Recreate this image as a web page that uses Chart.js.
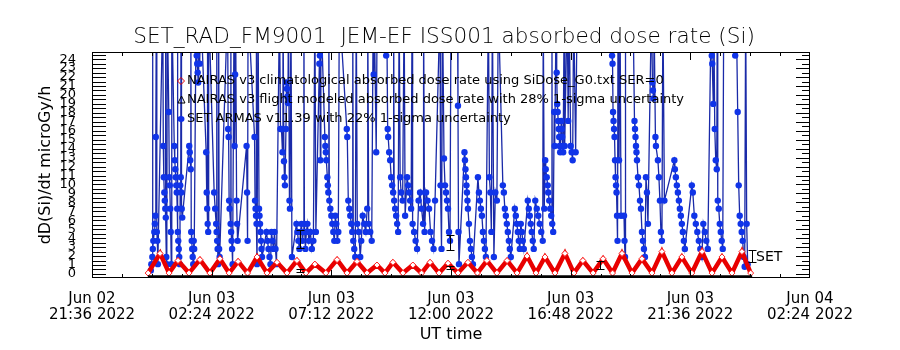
<!DOCTYPE html>
<html>
<head>
<meta charset="utf-8">
<script src="https://cdn.jsdelivr.net/npm/chart.js@4.4.0/dist/chart.umd.min.js"></script>
<style>
  html, body { margin: 0; padding: 0; background: #fff; }
  #wrap { width: 900px; height: 350px; }
</style>
</head>
<body>
<div id="wrap"><canvas id="doseChart" width="900" height="350"></canvas></div>
<script>
// x values are hours after Jun 02 21:36 UT
const xTickHours = [0, 4.8, 9.6, 14.4, 19.2, 24.0, 28.8];
const xTickDates = ['Jun 02', 'Jun 03', 'Jun 03', 'Jun 03', 'Jun 03', 'Jun 03', 'Jun 04'];
const xTickTimes = ['21:36 2022', '02:24 2022', '07:12 2022', '12:00 2022', '16:48 2022', '21:36 2022', '02:24 2022'];
const yTickValues = [0, 1, 2, 3, 4, 5, 6, 7, 8, 9, 10, 11, 12, 13, 14, 15, 16, 17, 18, 19, 20, 21, 22, 23, 24];

const chartTitle = 'SET_RAD_FM9001  JEM-EF ISS001 absorbed dose rate (Si)';
const legendLines = [
    'NAIRAS v3 climatological absorbed dose rate using SiDose_G0.txt SER=0',
    'NAIRAS v3 flight modeled absorbed dose rate with 28% 1-sigma uncertainty',
    'SET ARMAS v11.39 with 22% 1-sigma uncertainty'
];

// NAIRAS climatological (red), troughs and peaks
const redT = [2.25, 2.73, 3.09, 3.45, 3.89, 4.33, 4.73, 5.13, 5.50, 5.86, 6.24, 6.62, 7.02, 7.42, 7.82, 8.22,
    8.58, 8.94, 9.38, 9.83, 10.23, 10.63, 11.03, 11.43, 11.75, 12.07, 12.47, 12.87, 13.22, 13.56, 13.92, 14.28,
    14.68, 15.08, 15.46, 15.84, 16.24, 16.65, 17.05, 17.45, 17.81, 18.17, 18.57, 18.97, 19.33, 19.69, 20.10, 20.50,
    20.88, 21.26, 21.66, 22.06, 22.46, 22.86, 23.26, 23.66, 24.06, 24.47, 24.87, 25.27, 25.67, 26.07, 26.42];
const redV = [0.1, 2.3, 0.1, 1.5, 0.1, 1.6, 0.1, 1.7, 0.1, 1.4, 0.1, 1.9, 0.1, 1.3, 0.1, 1.5,
    0.1, 1.1, 0.1, 1.6, 0.1, 1.4, 0.1, 1.0, 0.1, 1.3, 0.1, 1.0, 0.1, 1.3, 0.1, 1.2,
    0.1, 1.3, 0.1, 1.5, 0.1, 1.5, 0.1, 2.0, 0.1, 1.9, 0.1, 2.3, 0.1, 1.5, 0.1, 1.7,
    0.1, 2.3, 0.1, 1.7, 0.1, 2.5, 0.1, 1.9, 0.1, 2.5, 0.1, 1.9, 0.1, 2.5, 0.1];

// NAIRAS flight modeled (black), sits on the floor
const blackT = [2.24, 8.34, 14.36, 20.37, 26.48];
const blackV = [-0.3, -0.3, -0.3, -0.3, -0.3];
const errT = [8.34, 8.34, 14.36, 14.36, 20.37, 26.47];
const errLo = [2.9, 0.2, 2.7, 0.5, 0.5, 1.3];
const errHi = [4.9, 0.5, 4.4, 0.9, 1.45, 2.7];

// SET ARMAS (blue), [hours, microGy/h]; 30 = off scale
const blueA = [
    [2.36,0.4],[2.38,1.1],[2.42,1.9],[2.43,30],[2.44,2.8],[2.46,3.7],[2.50,4.7],[2.52,5.6],[2.54,6.5],[2.56,15.3],[2.58,30],[2.60,4.7],[2.62,3.7],[2.64,1.1],
    [2.84,30],[2.86,14.3],[2.88,10.8],[2.90,9.1],[2.92,8.2],[2.94,7.3],[2.95,30],[2.96,6.3],[2.98,1.9],[3.00,1.1],[3.02,30],
    [3.08,18.1],[3.10,10.8],[3.12,9.9],[3.14,7.3],[3.16,4.7],[3.18,1.1],[3.20,30],
    [3.30,14.3],[3.32,12.7],[3.34,11.7],[3.36,10.8],[3.38,9.9],[3.40,9.1],[3.42,7.3],[3.43,30],[3.44,4.7],[3.46,3.7],[3.48,2.8],[3.50,1.9],[3.52,1.1],[3.54,9.9],[3.56,10.8],[3.57,30],[3.58,9.1],[3.60,7.3],[3.62,6.3],
    [3.90,14.3],[3.92,13.6],[3.94,12.7],[3.96,11.7],[3.97,30],[3.98,4.7],[4.00,3.7],[4.02,2.8],[4.04,1.9],[4.06,1.1],[4.08,3.7],[4.10,2.8],
    [4.18,30],[4.20,24.4],[4.22,23.5],[4.24,22.5],[4.26,21.4],[4.28,30],[4.32,23.5],[4.36,30],
    [4.58,13.6],[4.60,9.1],[4.62,7.3],[4.63,30],[4.64,5.6],[4.66,4.7],[4.68,30],
    [4.90,9.1],[4.94,7.3],[4.98,5.6],[5.00,4.7],[5.01,30],[5.02,3.7],[5.04,2.8],[5.06,1.1],[5.08,30],[5.10,2.8],[5.12,1.9],
    [5.44,30],[5.46,16.2],[5.48,15.3],[5.50,8.2],[5.52,7.3],[5.56,5.6],[5.57,30],[5.58,4.7],[5.60,3.7],[5.62,2.8],[5.64,1.1],[5.70,30],[5.72,14.3],[5.74,22.3],[5.76,30],[5.80,8.2],[5.82,5.6],[5.84,3.7],
    [6.20,14.3],[6.22,9.1],[6.24,3.7],[6.26,30],
    [6.52,15.3],[6.54,8.2],[6.56,7.3],[6.58,6.5],[6.59,30],[6.60,5.6],[6.62,1.1],[6.66,30],[6.70,7.3],[6.72,6.5],[6.74,5.6],[6.76,4.7],[6.78,3.7],[6.80,2.8],[6.82,1.9],
    [7.00,4.7],[7.04,3.7],[7.08,2.8],[7.12,1.9],[7.16,1.1],[7.20,4.7],[7.24,3.7],[7.28,2.8],[7.32,4.7],[7.36,2.8],[7.40,1.1],
    [7.52,30],[7.56,16.2],[7.60,16.2],[7.64,13.6],[7.66,30],[7.70,12.6],[7.72,10.8],[7.74,9.9],[7.78,16.2],[7.80,21.4],[7.82,20.7],[7.84,19.8],[7.86,19.1],[7.88,30],[7.92,8.2],[7.94,7.3],[7.98,30],[8.02,1.9]
];
const blueB = [
    [8.20,5.6],[8.24,4.7],[8.28,3.7],[8.32,2.8],[8.36,4.7],[8.40,5.6],[8.44,3.7],[8.48,4.7],[8.50,30],[8.52,5.6],[8.56,2.8],[8.60,4.7],[8.64,5.6],[8.70,3.7],[8.76,4.7],[8.82,2.8],[8.88,3.7],[8.94,30],[8.98,4.7],
    [9.12,23.5],[9.14,24.4],[9.16,12.7],[9.18,30],
    [9.34,15.3],[9.36,14.3],[9.38,13.6],[9.40,12.7],[9.44,10.8],[9.46,9.9],[9.48,9.1],[9.50,30],[9.52,8.2],[9.56,7.3],[9.60,6.5],[9.64,5.6],[9.68,4.7],[9.72,3.7],[9.76,6.5],[9.80,5.6],[9.84,3.7],[9.88,4.7],[9.92,30],
    [10.22,16.2],[10.24,15.3],[10.28,8.2],[10.32,7.3],[10.36,6.5],[10.40,5.6],[10.44,4.7],[10.46,30],[10.48,3.7],[10.52,2.8],[10.56,1.9],[10.60,30],[10.64,5.6],[10.70,4.7],[10.76,1.9],[10.80,3.7],[10.86,6.5],[10.92,5.6],[10.98,4.7],[11.04,7.3],[11.06,30],[11.10,5.6],[11.16,4.7],[11.22,3.7],
    [11.28,30],[11.30,22.3],[11.32,30],[11.40,13.6],[11.44,30],
    [11.80,24.4],[11.82,30],[11.86,16.2],[11.88,15.3],[11.92,13.6],[11.96,12.7],[12.00,10.8],[12.04,9.9],[12.08,9.1],[12.10,30],[12.12,8.2],[12.16,7.3],[12.20,6.5],[12.24,5.6],[12.28,4.7],[12.32,30],[12.36,10.8],[12.40,9.1],[12.46,8.2],[12.52,30],[12.56,6.5],
    [12.64,10.8],[12.68,9.9],[12.72,9.1],[12.76,8.2],[12.80,7.3],[12.84,30],[12.86,5.6],[12.92,4.7],[12.98,3.7],[13.04,2.8],[13.10,8.2],[13.16,9.1],[13.22,7.3],[13.28,5.6],[13.30,30],[13.34,4.7],[13.40,9.1],[13.46,8.2],[13.52,7.3],[13.58,4.7],[13.64,3.7],[13.70,2.8],[13.76,8.2],
    [13.96,30],[13.98,9.9],[14.02,2.8],[14.06,30],[14.12,12.9],[14.16,9.9],[14.20,9.1],[14.24,8.2],[14.28,7.3],[14.32,4.7],[14.36,3.7],[14.40,30]
];
const blueC = [
    [14.66,30],[14.68,18.8],[14.70,4.7],[14.72,1.1],
    [14.94,13.6],[14.96,12.7],[14.98,11.7],[15.00,10.8],[15.02,9.9],[15.04,9.1],[15.06,8.2],[15.08,7.3],[15.12,5.6],[15.16,3.7],[15.20,2.8],[15.24,1.9],[15.28,1.1],
    [15.48,10.8],[15.52,9.1],[15.56,8.2],[15.60,7.3],[15.64,6.5],[15.68,4.7],[15.72,3.7],[15.76,2.8],[15.80,1.9],
    [15.90,30],[15.94,10.8],[15.98,9.1],[16.02,4.7],[16.06,30],[16.12,1.9],[16.18,9.1],[16.24,8.2],[16.30,30],
    [16.48,9.9],[16.52,9.1],[16.56,7.3],[16.60,6.5],[16.64,5.6],[16.68,4.7],[16.72,3.7],[16.76,2.8],[16.80,1.9],
    [16.96,7.3],[17.00,6.5],[17.04,5.6],[17.08,4.7],[17.12,3.7],[17.16,2.8],[17.20,5.6],[17.24,4.7],[17.28,3.7],[17.32,2.8],
    [17.48,8.2],[17.52,7.3],[17.56,6.5],[17.60,5.6],[17.64,4.7],[17.68,3.7],[17.72,2.8],[17.78,8.2],[17.84,7.3],[17.90,6.5],[17.96,5.6],[18.02,4.7],[18.08,3.7],[18.10,30],[18.14,7.3],
    [18.18,12.7],[18.20,11.7],[18.24,10.8],[18.28,9.9],[18.30,9.1],[18.34,8.2],[18.38,7.3],[18.42,6.5],[18.45,30],[18.46,5.6],[18.50,4.7],[18.54,18.1],[18.56,14.3],
    [18.62,30],[18.64,22.5],[18.66,19.0],[18.68,18.1],[18.70,17.1],[18.72,16.2],[18.74,15.3],[18.76,14.3],[18.78,13.6],[18.82,17.1],[18.84,16.2],[18.86,15.3],[18.88,14.3],[18.90,13.6],[18.94,30],[18.96,14.3],
    [19.06,30],[19.10,17.1],[19.14,30],[19.20,14.3],[19.24,13.6],[19.28,12.7],[19.32,30],[19.40,13.6],[19.46,30],
    [20.84,30],[20.86,24.4],[20.88,23.5],[20.90,18.1],[20.92,17.1],[20.94,16.2],[20.96,15.3],[20.98,12.7],[21.00,10.8],[21.02,9.9],[21.04,9.1],[21.06,6.5],[21.08,3.7],[21.10,30],[21.14,12.7],[21.18,30],[21.22,6.5]
];
const blueD = [
    [21.34,6.5],[21.36,3.7],[21.38,1.9],[21.40,30],
    [21.70,30],[21.76,17.1],[21.78,16.2],[21.80,15.3],[21.82,14.3],[21.84,13.6],[21.86,12.7],[21.90,10.8],[21.94,9.9],[21.98,8.2],[22.02,7.3],[22.06,4.7],[22.10,3.7],[22.14,2.8],[22.18,1.9],[22.22,10.8],[22.26,9.1],[22.30,5.6],
    [22.44,30],[22.48,21.4],[22.50,20.5],[22.52,19.6],[22.54,30],[22.60,15.3],[22.62,14.3],
    [22.70,12.7],[22.74,10.8],[22.78,8.2],[22.82,4.7],[22.86,3.7],[22.90,30],[22.96,8.2],
    [23.36,12.7],[23.38,11.7],[23.42,10.8],[23.46,9.9],[23.50,9.1],[23.54,8.2],[23.58,7.3],[23.62,6.5],[23.66,5.6],[23.70,4.7],[23.74,3.7],[23.78,2.8],
    [24.06,9.9],[24.10,9.1],[24.16,6.5],[24.22,5.6],[24.28,4.7],[24.34,3.7],[24.40,2.8],[24.46,1.9],[24.52,5.6],[24.58,4.7],[24.64,3.7],[24.70,2.8],
    [24.84,30],[24.86,24.4],[24.88,23.5],[24.92,19.0],[24.94,30],[24.98,16.2],[25.02,12.7],[25.06,11.7],[25.08,30],[25.10,8.2],[25.14,7.3],[25.18,5.6],[25.22,4.7],[25.26,3.7],[25.30,2.8],[25.34,30],
    [25.78,30],[25.80,24.4],[25.84,30],[25.90,18.1],[25.94,9.9],[25.98,6.5],[26.02,5.6],[26.06,4.7],[26.10,3.7],[26.14,1.9],[26.18,0.8],[26.22,30],[26.26,5.6],[26.30,1.1]
];

const FONT = "'DejaVu Sans', 'Liberation Sans', sans-serif";

function toPoints(ts, vs) {
    return ts.map((t, i) => ({ x: t, y: vs[i] }));
}

// IDL style box, inside ticks, title, legend and error bars
const idlPlot = {
    id: 'idlPlot',
    afterDatasetsDraw(chart) {
        const { ctx, scales: { x, y } } = chart;
        ctx.save();
        ctx.strokeStyle = '#000';
        ctx.lineWidth = 1;
        for (let i = 0; i < errT.length; i++) {
            const px = Math.round(x.getPixelForValue(errT[i])) + 0.5;
            const y1 = Math.round(y.getPixelForValue(errLo[i])) + 0.5;
            const y2 = Math.round(y.getPixelForValue(errHi[i])) + 0.5;
            ctx.beginPath();
            ctx.moveTo(px, y1); ctx.lineTo(px, y2);
            ctx.moveTo(px - 4, y1); ctx.lineTo(px + 4, y1);
            ctx.moveTo(px - 4, y2); ctx.lineTo(px + 4, y2);
            ctx.stroke();
        }
        ctx.restore();
    },
    afterDraw(chart) {
        const { ctx, chartArea: a, scales: { x, y } } = chart;
        ctx.save();
        ctx.strokeStyle = '#000';
        ctx.lineWidth = 1;
        ctx.strokeRect(a.left + 0.5, a.top + 0.5, a.right - a.left - 1, a.bottom - a.top - 1);

        // y ticks every half unit
        ctx.beginPath();
        for (let k = 0; k <= 49; k++) {
            const py = Math.round(y.getPixelForValue(k / 2)) + 0.5;
            if (py <= a.top + 1) continue;
            ctx.moveTo(a.left, py); ctx.lineTo(a.left + 14, py);
            const len = k % 2 === 0 ? 14 : 8;
            ctx.moveTo(a.right, py); ctx.lineTo(a.right - len, py);
        }
        // x ticks every 1.2 h
        for (let k = 1; k < 24; k++) {
            const px = Math.round(x.getPixelForValue(k * 1.2)) + 0.5;
            const len = k % 4 === 0 ? 8 : 4;
            ctx.moveTo(px, a.top); ctx.lineTo(px, a.top + len);
            ctx.moveTo(px, a.bottom); ctx.lineTo(px, a.bottom - len);
        }
        ctx.stroke();

        // title
        ctx.fillStyle = '#000';
        ctx.textAlign = 'center';
        ctx.textBaseline = 'middle';
        ctx.font = '200 20px ' + FONT;
        const tw = ctx.measureText(chartTitle).width;
        ctx.font = '200 ' + (20 * 622 / tw).toFixed(2) + 'px ' + FONT;
        ctx.fillText(chartTitle, 444, 37);

        // legend
        ctx.textAlign = 'left';
        ctx.font = '13px ' + FONT;
        const ly = [81, 100, 119];
        legendLines.forEach((t, i) => ctx.fillText(t, 187, ly[i]));
        ctx.strokeStyle = '#e00000';
        ctx.beginPath();
        ctx.moveTo(181, ly[0] - 3.5); ctx.lineTo(184.5, ly[0]); ctx.lineTo(181, ly[0] + 3.5); ctx.lineTo(177.5, ly[0]);
        ctx.closePath(); ctx.stroke();
        ctx.strokeStyle = '#000';
        ctx.beginPath();
        ctx.moveTo(181.5, ly[1] - 4); ctx.lineTo(185, ly[1] + 3); ctx.lineTo(178, ly[1] + 3);
        ctx.closePath(); ctx.stroke();
        ctx.fillStyle = '#1030e8';
        ctx.beginPath();
        ctx.ellipse(181, ly[2], 3.5, 3, 0, 0, Math.PI * 2);
        ctx.fill();

        // end label
        ctx.fillStyle = '#000';
        ctx.font = '14px ' + FONT;
        ctx.fillText('SET', 756, 257);
        ctx.restore();
    }
};

new Chart(document.getElementById('doseChart'), {
    type: 'line',
    data: {
        datasets: [
            {
                label: 'NAIRAS flight',
                data: toPoints(blackT, blackV),
                borderColor: '#000',
                borderWidth: 3,
                pointRadius: 0
            },
            {
                label: 'NAIRAS climatological',
                data: toPoints(redT, redV),
                borderColor: '#e80000',
                borderWidth: 4.5,
                pointStyle: 'rectRot',
                pointRadius: 3,
                pointBorderWidth: 1,
                pointBorderColor: '#ff2020',
                pointBackgroundColor: '#ffffff'
            },
            {
                label: 'SET ARMAS',
                data: [...blueA, ...blueB, ...blueC, ...blueD].map(p => ({ x: p[0], y: p[1] })),
                borderColor: '#1a2aa8',
                borderWidth: 1.3,
                pointRadius: 3.2,
                pointBorderWidth: 0,
                pointBackgroundColor: '#1034e8'
            }
        ]
    },
    options: {
        responsive: false,
        animation: false,
        layout: { padding: { top: 52, right: 90, left: 0, bottom: 0 } },
        plugins: {
            legend: { display: false },
            tooltip: { enabled: false },
            title: { display: false }
        },
        scales: {
            x: {
                type: 'linear',
                min: 0,
                max: 28.8,
                afterFit: (s) => { s.height = 72; },
                afterBuildTicks: (s) => { s.ticks = xTickHours.map(v => ({ value: v })); },
                grid: { display: false },
                border: { display: false },
                ticks: {
                    autoSkip: false,
                    maxRotation: 0,
                    padding: 5,
                    color: '#000',
                    font: { family: FONT, size: 15, lineHeight: 1.07 },
                    callback: (v, i) => [xTickDates[i], xTickTimes[i]]
                },
                title: {
                    display: true,
                    text: 'UT time',
                    color: '#000',
                    font: { family: FONT, size: 16 },
                    padding: { top: 0, bottom: 6 }
                }
            },
            y: {
                min: -0.45,
                max: 24.8,
                afterFit: (s) => { s.width = 92; },
                afterBuildTicks: (s) => { s.ticks = yTickValues.map(v => ({ value: v })); },
                grid: { display: false },
                border: { display: false },
                ticks: {
                    autoSkip: false,
                    padding: 8,
                    color: '#000',
                    font: { family: FONT, size: 13 }
                },
                title: {
                    display: true,
                    text: 'dD(Si)/dt microGy/h',
                    color: '#000',
                    font: { family: FONT, size: 16 },
                    padding: { top: 36, bottom: 0 }
                }
            }
        }
    },
    plugins: [idlPlot]
});
</script>
</body>
</html>
